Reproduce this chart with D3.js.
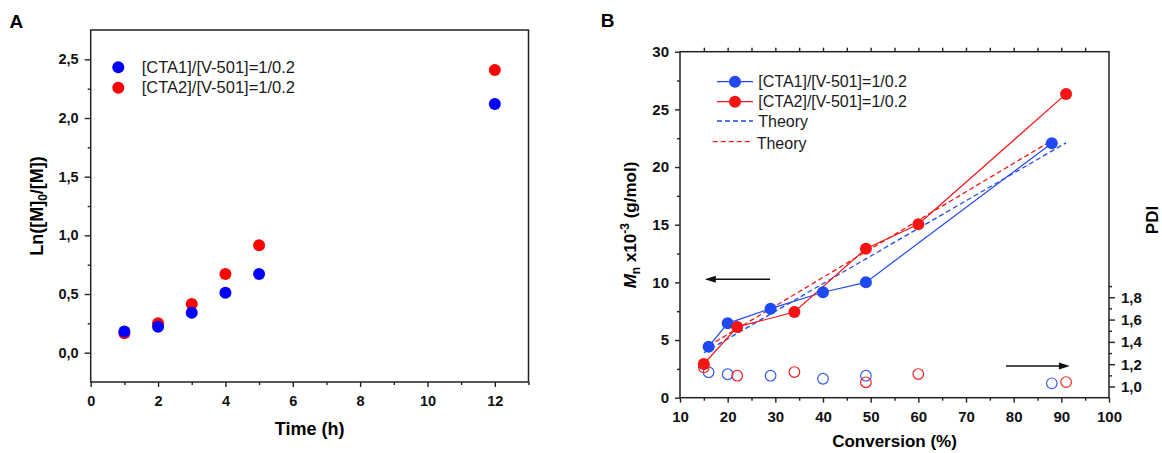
<!DOCTYPE html>
<html><head><meta charset="utf-8">
<script src="https://cdn.jsdelivr.net/npm/d3@7"></script>
<style>body{margin:0;background:#fff}svg text{font-family:"Liberation Sans",Arial,sans-serif}</style>
</head><body><svg id="c" width="1162" height="453"></svg>
<script>
// ---- Panel A data ----
const timeA = [1, 2, 3, 4, 5, 12];
const lnCTA1 = [0.18, 0.22, 0.34, 0.51, 0.67, 2.12];
const lnCTA2 = [0.165, 0.25, 0.415, 0.67, 0.915, 2.41];
const ticksAx = [0, 2, 4, 6, 8, 10, 12];
const ticksAy = [0, 0.5, 1.0, 1.5, 2.0, 2.5];
// ---- Panel B data ----
const convCTA1 = [16, 20, 29, 40, 49, 88];
const mnCTA1 = [4.42, 6.45, 7.72, 9.14, 10.0, 22.06];
const pdiCTA1 = [1.128, 1.11, 1.097, 1.07, 1.097, 1.029];
const convCTA2 = [15, 22, 34, 49, 60, 91];
const mnCTA2 = [2.92, 6.13, 7.43, 12.92, 15.04, 26.34];
const pdiCTA2 = [1.172, 1.097, 1.13, 1.038, 1.112, 1.04];
const theoryBlueConv = [15, 22, 34, 49, 60, 91];
const theoryBlueMn = [3.9, 5.58, 8.45, 12.04, 14.68, 22.1];
const theoryRedConv = [16, 20, 29, 40, 49, 88];
const theoryRedMn = [4.5, 5.49, 7.71, 10.43, 12.66, 22.3];
const ticksBx = [10, 20, 30, 40, 50, 60, 70, 80, 90, 100];
const ticksBy = [0, 5, 10, 15, 20, 25, 30];
const ticksPDI = [1.0, 1.2, 1.4, 1.6, 1.8];
const legendLabels = ["[CTA1]/[V-501]=1/0.2", "[CTA2]/[V-501]=1/0.2", "Theory", "Theory"];
// arrows (data units of panel B: conversion, Mn)
const arrowLeft = [[28.9, 10.27], [15.2, 10.27]];
const arrowRight = [[78.4, 2.75], [91.8, 2.75]];

const BLUE_A = "#0000ff", RED_A = "#ff0000";
const BLUE_B = "#2149f2", RED_B = "#f51414";
const svg = d3.select("#c");
const comma = f => v => d3.format(f)(v).replace(".", ",");

function styleAxis(g, fs) {
  g.select(".domain").remove();
  g.selectAll(".tick line").attr("stroke", "#222").attr("stroke-width", 1.4);
  g.selectAll(".tick text").attr("font-size", fs).attr("font-weight", "bold").attr("fill", "#111");
}

// ================= Panel A =================
const xA = d3.scaleLinear().domain([0, 13]).range([90.7, 528.5]);
const yA = d3.scaleLinear().domain([-0.25, 2.75]).range([382, 30]);
const gA = svg.append("g");
gA.append("g").attr("transform", `translate(0,382)`)
  .call(d3.axisBottom(xA).tickValues(d3.range(1, 14, 2)).tickSize(3).tickFormat(""))
  .call(g => styleAxis(g, 14.5));
gA.append("g").attr("transform", `translate(0,382)`)
  .call(d3.axisBottom(xA).tickValues(ticksAx).tickSize(5).tickPadding(9).tickFormat(d3.format("d")))
  .call(g => styleAxis(g, 14.5));
gA.append("g").attr("transform", `translate(90.7,0)`)
  .call(d3.axisLeft(yA).tickValues(d3.range(0.25, 2.5, 0.5)).tickSize(3).tickFormat(""))
  .call(g => styleAxis(g, 14.5));
gA.append("g").attr("transform", `translate(90.7,0)`)
  .call(d3.axisLeft(yA).tickValues(ticksAy).tickSize(6).tickPadding(6).tickFormat(comma(".1f")))
  .call(g => styleAxis(g, 14.5));
gA.append("rect").attr("x", xA(0)).attr("y", yA(2.75)).attr("width", xA(13) - xA(0)).attr("height", yA(-0.25) - yA(2.75))
  .attr("fill", "none").attr("stroke", "#222").attr("stroke-width", 1.5);

gA.selectAll(".rA").data(timeA).enter().append("circle")
  .attr("cx", (d) => xA(d)).attr("cy", (d, i) => yA(lnCTA2[i])).attr("r", 6).attr("fill", RED_A);
gA.selectAll(".bA").data(timeA).enter().append("circle")
  .attr("cx", (d) => xA(d)).attr("cy", (d, i) => yA(lnCTA1[i])).attr("r", 6).attr("fill", BLUE_A);

// legend A
[[BLUE_A, 67.3], [RED_A, 87.7]].forEach(([c, y], i) => {
  gA.append("circle").attr("cx", 118.3).attr("cy", y).attr("r", 6).attr("fill", c);
  gA.append("text").attr("x", 141.7).attr("y", y).attr("dy", "0.35em").attr("font-size", 16.5).attr("fill", "#1a1a1a").text(legendLabels[i]);
});
gA.append("text").attr("x", 309.6).attr("y", 435).attr("text-anchor", "middle").attr("font-size", 18).attr("font-weight", "bold").text("Time (h)");
const yt = gA.append("text").attr("transform", "translate(43,206) rotate(-90)").attr("text-anchor", "middle")
  .attr("font-size", 18).attr("font-weight", "bold");
yt.append("tspan").text("Ln([M]");
yt.append("tspan").attr("font-size", 12).attr("dy", 4).text("0");
yt.append("tspan").attr("dy", -4).text("/[M])");
svg.append("text").attr("x", 9.6).attr("y", 28.3).attr("font-size", 19).attr("font-weight", "bold").text("A");

// ================= Panel B =================
const xB = d3.scaleLinear().domain([10, 100]).range([680, 1109]);
const yB = d3.scaleLinear().domain([0, 30]).range([397.7, 51.7]);
const yP = d3.scaleLinear().domain([0.9, 4.0]).range([397.7, 51.7]);
const gB = svg.append("g");
gB.append("g").attr("transform", `translate(0,397.7)`)
  .call(d3.axisBottom(xB).tickValues(d3.range(15, 100, 10)).tickSize(3).tickFormat(""))
  .call(g => styleAxis(g, 15));
gB.append("g").attr("transform", `translate(0,397.7)`)
  .call(d3.axisBottom(xB).tickValues(ticksBx).tickSize(5).tickPadding(9).tickFormat(d3.format("d")))
  .call(g => styleAxis(g, 15));
gB.append("g").attr("transform", `translate(0,51.7)`)
  .call(d3.axisTop(xB).tickValues(d3.range(15, 100, 5)).tickSize(4).tickFormat(""))
  .call(g => styleAxis(g, 15));
gB.append("g").attr("transform", `translate(680,0)`)
  .call(d3.axisLeft(yB).tickValues(d3.range(2.5, 30, 5)).tickSize(3).tickFormat(""))
  .call(g => styleAxis(g, 15));
gB.append("g").attr("transform", `translate(680,0)`)
  .call(d3.axisLeft(yB).tickValues(ticksBy).tickSize(5).tickPadding(6).tickFormat(d3.format("d")))
  .call(g => styleAxis(g, 15));
gB.append("g").attr("transform", `translate(1109,0)`)
  .call(d3.axisRight(yP).tickValues([1.1, 1.3, 1.5, 1.7, 1.9]).tickSize(3).tickFormat(""))
  .call(g => styleAxis(g, 15));
gB.append("g").attr("transform", `translate(1109,0)`)
  .call(d3.axisRight(yP).tickValues(ticksPDI).tickSize(6).tickPadding(6).tickFormat(comma(".1f")))
  .call(g => styleAxis(g, 15));
gB.append("rect").attr("x", xB(10)).attr("y", yB(30)).attr("width", xB(100) - xB(10)).attr("height", yB(0) - yB(30))
  .attr("fill", "none").attr("stroke", "#222").attr("stroke-width", 1.5);

const lineB = d3.line().x(d => xB(d[0])).y(d => yB(d[1]));
const zip = (a, b) => a.map((v, i) => [v, b[i]]);
// theory dashed
gB.append("path").attr("d", lineB(zip(theoryBlueConv, theoryBlueMn))).attr("fill", "none")
  .attr("stroke", BLUE_B).attr("stroke-width", 1.3).attr("stroke-dasharray", "5,3");
gB.append("path").attr("d", lineB(zip(theoryRedConv, theoryRedMn))).attr("fill", "none")
  .attr("stroke", RED_B).attr("stroke-width", 1.3).attr("stroke-dasharray", "5,3");
// experimental lines
gB.append("path").attr("d", lineB(zip(convCTA1, mnCTA1))).attr("fill", "none").attr("stroke", BLUE_B).attr("stroke-width", 1.2);
gB.append("path").attr("d", lineB(zip(convCTA2, mnCTA2))).attr("fill", "none").attr("stroke", RED_B).attr("stroke-width", 1.2);
// PDI open circles
gB.selectAll(".pb").data(convCTA1).enter().append("circle")
  .attr("cx", d => xB(d)).attr("cy", (d, i) => yP(pdiCTA1[i])).attr("r", 5.3)
  .attr("fill", "none").attr("stroke", "#3a5cf5").attr("stroke-width", 1.2);
gB.selectAll(".pr").data(convCTA2).enter().append("circle")
  .attr("cx", d => xB(d)).attr("cy", (d, i) => yP(pdiCTA2[i])).attr("r", 5.3)
  .attr("fill", "none").attr("stroke", "#f52020").attr("stroke-width", 1.2);
// Mn filled circles
gB.selectAll(".mb").data(convCTA1).enter().append("circle")
  .attr("cx", d => xB(d)).attr("cy", (d, i) => yB(mnCTA1[i])).attr("r", 6).attr("fill", BLUE_B);
gB.selectAll(".mr").data(convCTA2).enter().append("circle")
  .attr("cx", d => xB(d)).attr("cy", (d, i) => yB(mnCTA2[i])).attr("r", 6).attr("fill", RED_B);

// arrows
function arrow(pts) {
  const [x1, y1] = [xB(pts[0][0]), yB(pts[0][1])];
  const [x2, y2] = [xB(pts[1][0]), yB(pts[1][1])];
  const dir = Math.sign(x2 - x1);
  gB.append("line").attr("x1", x1).attr("y1", y1).attr("x2", x2 - dir * 8).attr("y2", y2).attr("stroke", "#111").attr("stroke-width", 1.6);
  gB.append("path").attr("d", `M${x2},${y2}L${x2 - dir * 11},${y2 - 3.5}L${x2 - dir * 11},${y2 + 3.5}Z`).attr("fill", "#111");
}
arrow(arrowLeft);
arrow(arrowRight);

// legend B
const legB = [
  { type: "marker", c: BLUE_B, y: 81.7, x1: 717, x2: 753, tx: 758.3 },
  { type: "marker", c: RED_B, y: 101.7, x1: 717, x2: 753, tx: 758.3 },
  { type: "dash", c: BLUE_B, y: 121, x1: 717, x2: 753, tx: 758.3 },
  { type: "dash", c: RED_B, y: 141.7, x1: 712.7, x2: 752.7, tx: 756.7 }
];
legB.forEach((L, i) => {
  gB.append("line").attr("x1", L.x1).attr("x2", L.x2).attr("y1", L.y).attr("y2", L.y).attr("stroke", L.c)
    .attr("stroke-width", 1.3).attr("stroke-dasharray", L.type === "dash" ? "5,3" : null);
  if (L.type === "marker") gB.append("circle").attr("cx", (L.x1 + L.x2) / 2).attr("cy", L.y).attr("r", 6).attr("fill", L.c);
  gB.append("text").attr("x", L.tx).attr("y", L.y + (i === 3 ? 1.6 : 0)).attr("dy", "0.35em").attr("font-size", 16).attr("fill", "#1a1a1a").text(legendLabels[i]);
});

gB.append("text").attr("x", 894.5).attr("y", 447).attr("text-anchor", "middle").attr("font-size", 17).attr("font-weight", "bold").text("Conversion (%)");
const ytB = gB.append("text").attr("transform", "translate(636,225) rotate(-90)").attr("text-anchor", "middle")
  .attr("font-size", 17).attr("font-weight", "bold");
ytB.append("tspan").attr("font-style", "italic").text("M");
ytB.append("tspan").attr("font-size", 12).attr("dy", 4).text("n");
ytB.append("tspan").attr("dy", -4).text(" x10");
ytB.append("tspan").attr("font-size", 12).attr("dy", -7).text("-3");
ytB.append("tspan").attr("dy", 7).text(" (g/mol)");
gB.append("text").attr("transform", "translate(1158,220) rotate(-90)").attr("text-anchor", "middle")
  .attr("font-size", 17).attr("font-weight", "bold").text("PDI");
svg.append("text").attr("x", 600.7).attr("y", 26.7).attr("font-size", 19).attr("font-weight", "bold").text("B");
</script></body></html>
